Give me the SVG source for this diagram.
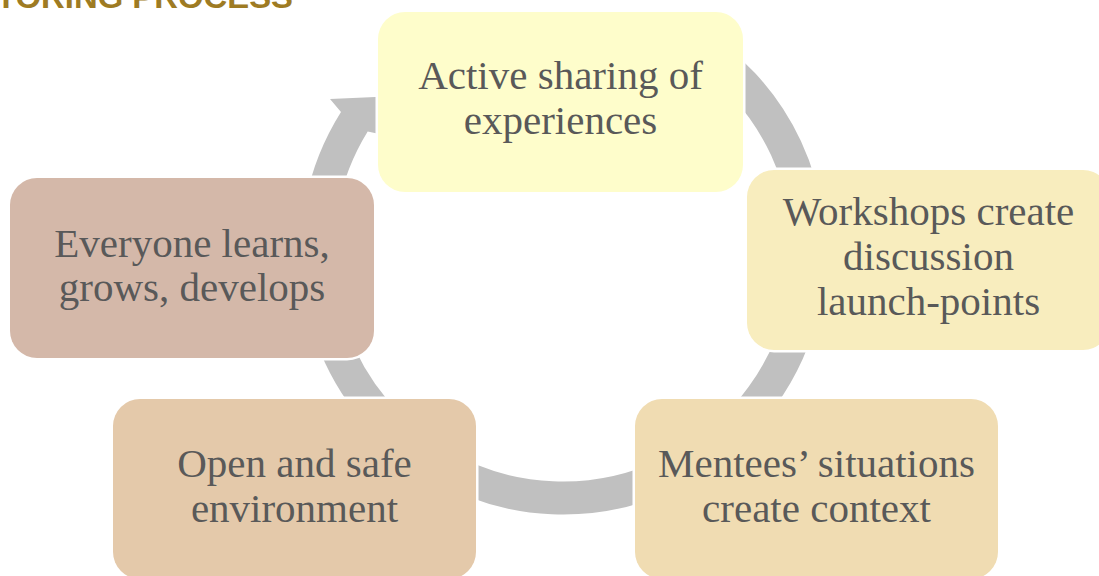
<svg xmlns="http://www.w3.org/2000/svg" width="1099" height="576" viewBox="0 0 1099 576">
  <style>
    .node rect { stroke: #FFFFFF; stroke-width: 5; paint-order: stroke; }
    .label { font-family: "Liberation Serif", "Times New Roman", serif; font-size: 41px; fill: #595959; text-anchor: middle; }
    .arc { fill: none; stroke: #C0C0C0; stroke-width: 33; }
    .head { fill: #C0C0C0; stroke: none; }
    .title { font-family: "Liberation Sans", Arial, sans-serif; font-weight: bold; font-size: 32px; fill: #9E7B23; }
  </style>
  <rect x="0" y="0" width="1099" height="576" fill="#FFFFFF"/>
  <text class="title" x="-4" y="8" textLength="297" lengthAdjust="spacingAndGlyphs">TORING PROCESS</text>

  <g id="connectors">
    <path class="arc" d="M 686 39 A 246 246 0 0 1 805.3 294.7"/>
    <path class="arc" d="M 803.6 303.1 A 246 246 0 0 1 686 465"/>
    <path class="arc" d="M 667 475 A 246 246 0 0 1 440 465"/>
    <path class="arc" d="M 421.9 453.5 A 246 246 0 0 1 325.4 315.7"/>
    <path class="head" d="M 304.5 297.6 A 262.5 262.5 0 0 1 341 112 L 330 99 L 398 96 L 398 138 L 367.7 131.5 A 229.5 229.5 0 0 0 337 291.8 Z"/>
  </g>

  <g id="node-active" class="node">
    <rect x="378" y="12" width="365" height="180" rx="27" fill="#FEFDCB"/>
    <text class="label" x="560.5" y="89">Active sharing of</text>
    <text class="label" x="560.5" y="134">experiences</text>
  </g>

  <g id="node-workshops" class="node">
    <rect x="747" y="170" width="363" height="180" rx="27" fill="#F8EDBE"/>
    <text class="label" x="928.5" y="225">Workshops create</text>
    <text class="label" x="928.5" y="270">discussion</text>
    <text class="label" x="928.5" y="315">launch-points</text>
  </g>

  <g id="node-mentees" class="node">
    <rect x="635" y="399" width="363" height="180" rx="27" fill="#F0DCB2"/>
    <text class="label" x="816.5" y="477">Mentees’ situations</text>
    <text class="label" x="816.5" y="522">create context</text>
  </g>

  <g id="node-open" class="node">
    <rect x="113" y="399" width="363" height="180" rx="27" fill="#E4C9AA"/>
    <text class="label" x="294.5" y="477">Open and safe</text>
    <text class="label" x="294.5" y="522">environment</text>
  </g>

  <g id="node-everyone" class="node">
    <rect x="10" y="178" width="364" height="180" rx="27" fill="#D4B8A9"/>
    <text class="label" x="192" y="257">Everyone learns,</text>
    <text class="label" x="192" y="301">grows, develops</text>
  </g>
</svg>
